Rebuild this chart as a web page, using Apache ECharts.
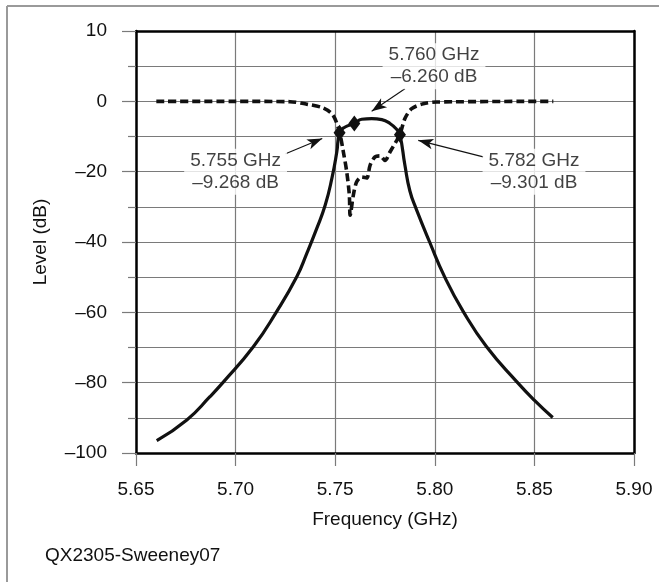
<!DOCTYPE html>
<html><head><meta charset="utf-8">
<script src="https://cdn.jsdelivr.net/npm/echarts@6/dist/echarts.min.js"></script>
<style>html,body{margin:0;padding:0;background:#fff}#c{width:659px;height:582px}</style>
</head><body><div id="c"></div><script>
// Solid trace (transmission), frequency in GHz, level in dB
const s21Freq = [5.6604, 5.6755, 5.6871, 5.6936, 5.7089, 5.7206, 5.7307, 5.7357, 5.7407, 5.7450, 5.7483, 5.7508, 5.7522, 5.7550, 5.7596, 5.7633, 5.7683, 5.7734, 5.7775, 5.7809, 5.7825, 5.7850, 5.7875, 5.7906, 5.7974, 5.8050, 5.8143, 5.8260, 5.8411, 5.8498, 5.8592];
const s21Db   = [-96.5, -90.6, -84.0, -80.0, -69.8, -59.8, -49.9, -43.3, -36.2, -29.5, -22.0, -14.4, -8.9, -7.3, -6.3, -5.1, -4.9, -5.2, -6.3, -8.0, -9.5, -18.2, -25.5, -30.5, -40.0, -50.0, -59.8, -69.8, -79.7, -84.9, -89.9];
// Dashed trace (reflection)
const s11Freq = [5.6602, 5.7000, 5.7273, 5.7357, 5.7440, 5.7490, 5.7522, 5.7541, 5.7558, 5.7571, 5.7575, 5.7591, 5.7608, 5.7633, 5.7658, 5.7675, 5.7700, 5.7725, 5.7750, 5.7775, 5.7809, 5.7825, 5.7850, 5.7884, 5.7942, 5.8010, 5.8595];
const s11Db   = [0, 0, -0.1, -0.8, -1.9, -4.0, -8.9, -14.4, -20.1, -26.7, -32.4, -26.7, -22.9, -21.5, -21.8, -18.2, -15.8, -15.5, -16.8, -14.4, -11.1, -9.5, -4.9, -2.1, -0.7, -0.2, 0];
// Marker points
const markerFreq = [5.7522, 5.7596, 5.7825];
const markerDb   = [-8.9, -6.3, -9.5];
// Annotation texts, anchors and arrows (data coordinates)
const noteText = ['5.760 GHz\n\u20136.260 dB', '5.755 GHz\n\u20139.268 dB', '5.782 GHz\n\u20139.301 dB'];
const noteFreq = [5.7996, 5.7000, 5.8498];
const noteDb   = [10, -20, -20];
const arrowFromFreq = [5.7850, 5.7251, 5.8243];
const arrowFromDb   = [3.6, -14.9, -15.8];
const arrowToFreq   = [5.7683, 5.7435, 5.7917];
const arrowToDb     = [-2.8, -10.6, -11.1];
// Axis ticks
const xTickValues = [5.65, 5.70, 5.75, 5.80, 5.85, 5.90];
const xTickLabels = ['5.65', '5.70', '5.75', '5.80', '5.85', '5.90'];
const yTickValues = [-100, -80, -60, -40, -20, 0, 20];
const yTickLabels = ['\u2013100', '\u201380', '\u201360', '\u201340', '\u201320', '0', '10'];

const FONT = "'Liberation Sans', Arial, sans-serif";
const GRID = '#7a7a7a';
const zip = (a, b) => a.map((v, i) => [v, b[i]]);

const chart = echarts.init(document.getElementById('c'), null, {renderer: 'canvas'});
chart.setOption({
  animation: false,
  backgroundColor: '#fff',
  textStyle: {fontFamily: FONT},
  title: {
    text: 'QX2305-Sweeney07', left: 40, top: 541,
    textStyle: {fontFamily: FONT, fontSize: 19, fontWeight: 'normal', color: '#111'}
  },
  grid: {left: 136, right: 25, top: 31, bottom: 129},
  xAxis: [{
    type: 'value', min: 5.65, max: 5.90, interval: 0.05,
    name: 'Frequency (GHz)', nameLocation: 'middle', nameGap: 57,
    nameTextStyle: {fontFamily: FONT, fontSize: 19, color: '#111'},
    axisLine: {show: true, onZero: false, lineStyle: {color: '#000', width: 2.5}},
    axisTick: {show: true, length: 13, lineStyle: {color: GRID, width: 1.2}},
    axisLabel: {
      margin: 27, fontFamily: FONT, fontSize: 19, color: '#111',
      formatter: v => { const i = xTickValues.findIndex(t => Math.abs(t - v) < 1e-6); return i >= 0 ? xTickLabels[i] : ''; }
    },
    splitLine: {show: true, lineStyle: {color: GRID, width: 1.2}}
  }, {
    type: 'value', position: 'top', min: 5.65, max: 5.90, interval: 0.05,
    axisLine: {show: true, onZero: false, lineStyle: {color: '#000', width: 2.5}},
    axisTick: {show: false}, axisLabel: {show: false}, splitLine: {show: false}
  }],
  yAxis: [{
    type: 'value', min: -100, max: 20, interval: 20,
    name: 'Level (dB)', nameLocation: 'middle', nameGap: 86,
    nameTextStyle: {fontFamily: FONT, fontSize: 19, color: '#111'},
    axisLine: {show: true, onZero: false, lineStyle: {color: '#000', width: 2.5}},
    axisTick: {show: true, length: 14, lineStyle: {color: GRID, width: 1.2}},
    minorTick: {show: true, splitNumber: 2, length: 8, lineStyle: {color: GRID, width: 1.2}},
    minorSplitLine: {show: true, lineStyle: {color: GRID, width: 1.2}},
    axisLabel: {
      margin: 29, fontFamily: FONT, fontSize: 19, color: '#111',
      formatter: v => { const i = yTickValues.indexOf(Math.round(v)); return i >= 0 ? yTickLabels[i] : ''; }
    },
    splitLine: {show: true, lineStyle: {color: GRID, width: 1.2}}
  }, {
    type: 'value', position: 'right', min: -100, max: 20, interval: 20,
    axisLine: {show: true, onZero: false, lineStyle: {color: '#000', width: 2.5}},
    axisTick: {show: false}, axisLabel: {show: false}, splitLine: {show: false}
  }],
  series: [{
    type: 'line', name: 'S11', data: zip(s11Freq, s11Db), showSymbol: false,
    smooth: 0.3, z: 3,
    lineStyle: {color: '#111', width: 3.6, type: [8, 4]}
  }, {
    type: 'line', name: 'S21', data: zip(s21Freq, s21Db), showSymbol: false,
    smooth: 0.5, z: 4,
    lineStyle: {color: '#111', width: 3.2}
  }, {
    type: 'scatter', name: 'markers', data: zip(markerFreq, markerDb), z: 5,
    symbol: 'diamond', symbolSize: [12, 16], itemStyle: {color: '#111', opacity: 1}
  }, {
    type: 'scatter', name: 'notes', data: zip(noteFreq, noteDb), z: 6,
    symbolSize: 0, silent: true,
    label: {
      show: true, position: 'inside', fontFamily: FONT, fontSize: 19, lineHeight: 22,
      color: '#111', backgroundColor: '#fff', padding: [1, 6, 1, 6], align: 'center',
      formatter: p => noteText[p.dataIndex]
    },
    markLine: {
      silent: true, symbol: ['none', 'arrow'], symbolSize: [8, 15],
      label: {show: false},
      lineStyle: {color: '#111', width: 1.1, type: 'solid'},
      data: arrowFromFreq.map((f, i) => [
        {coord: [f, arrowFromDb[i]]},
        {coord: [arrowToFreq[i], arrowToDb[i]]}
      ])
    }
  }],
  graphic: [
    {type: 'line', shape: {x1: 7, y1: 6, x2: 659, y2: 6}, style: {stroke: '#9a9a9a', lineWidth: 2}},
    {type: 'line', shape: {x1: 7, y1: 6, x2: 7, y2: 582}, style: {stroke: '#9a9a9a', lineWidth: 2}}
  ]
});
</script></body></html>
